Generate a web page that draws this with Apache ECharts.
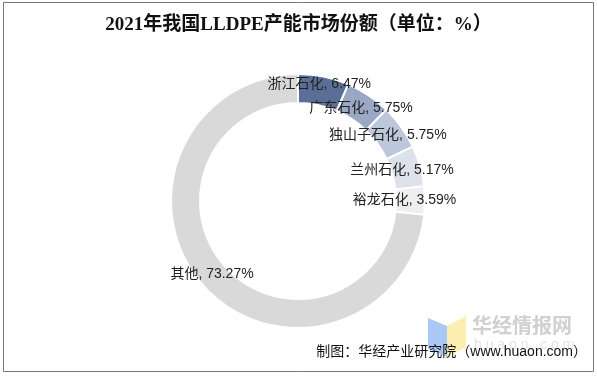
<!DOCTYPE html>
<html>
<head>
<meta charset="utf-8">
<script src="https://cdn.jsdelivr.net/npm/echarts@6/dist/echarts.min.js"></script>
<style>
    html, body {margin: 0; padding: 0; background: #fff;}
    #chart {width: 597px; height: 376px;}
</style>
</head>
<body>
<div id="chart"></div>
<script>
    const names = ['浙江石化', '广东石化', '独山子石化', '兰州石化', '裕龙石化', '其他'];
    const shares = [6.47, 5.75, 5.75, 5.17, 3.59, 73.27];
    const colors = ['#5b6e96', '#9aa8c4', '#bdc6da', '#dce1eb', '#efefef', '#d9d9d9'];
    const labelShift = [[-2, -4], [-1, 3], [-4, 1], [-7, 1], [-9, 0], [0, -4]];

    const chart = echarts.init(document.getElementById('chart'));
    chart.setOption({
        animation: false,
        title: {
            text: '2021年我国LLDPE产能市场份额（单位：%）',
            left: 'center',
            top: 11,
            textStyle: {
                fontFamily: '"Liberation Serif", "Noto Sans CJK SC"',
                fontSize: 19,
                fontWeight: 'bold',
                color: '#111'
            }
        },
        series: [{
            type: 'pie',
            center: [298, 201],
            radius: [98, 127],
            startAngle: 90,
            clockwise: true,
            itemStyle: {borderColor: '#fff', borderWidth: 2},
            label: {
                show: true,
                position: 'inside',
                formatter: '{b}, {c}%',
                fontFamily: '"Liberation Sans", "Noto Sans CJK SC"',
                fontSize: 14,
                color: '#222'
            },
            labelLine: {show: false},
            data: names.map((n, i) => ({
                name: n,
                value: shares[i],
                itemStyle: {color: colors[i]},
                label: {offset: labelShift[i]}
            }))
        }],
        graphic: [
            {
                type: 'rect',
                shape: {x: 3.5, y: 2.5, width: 590, height: 369},
                style: {fill: 'none', stroke: '#777', lineWidth: 1},
                silent: true
            },
            {
                type: 'polygon',
                shape: {points: [[428, 318], [447, 326], [447, 357], [428, 349]]},
                style: {fill: '#a9c8f5'}
            },
            {
                type: 'polygon',
                shape: {points: [[447, 326], [466, 316], [466, 347], [447, 357]]},
                style: {fill: '#fbeeb0'}
            },
            {
                type: 'text',
                left: 472,
                top: 315,
                style: {
                    text: '华经情报网',
                    fontFamily: '"Noto Sans CJK SC"',
                    fontSize: 20,
                    fontWeight: 'bold',
                    fill: '#d0d0d0'
                }
            },
            {
                type: 'text',
                left: 474,
                top: 338,
                style: {
                    text: 'h u a o n . c o m',
                    fontFamily: '"Liberation Sans"',
                    fontSize: 14,
                    fill: '#e4e4e4'
                }
            },
            {
                type: 'text',
                right: 10,
                top: 345,
                style: {
                    text: '制图：华经产业研究院（www.huaon.com）',
                    fontFamily: '"Liberation Sans", "Noto Sans CJK SC"',
                    fontSize: 14,
                    fill: '#111'
                }
            }
        ]
    });
</script>
</body>
</html>
